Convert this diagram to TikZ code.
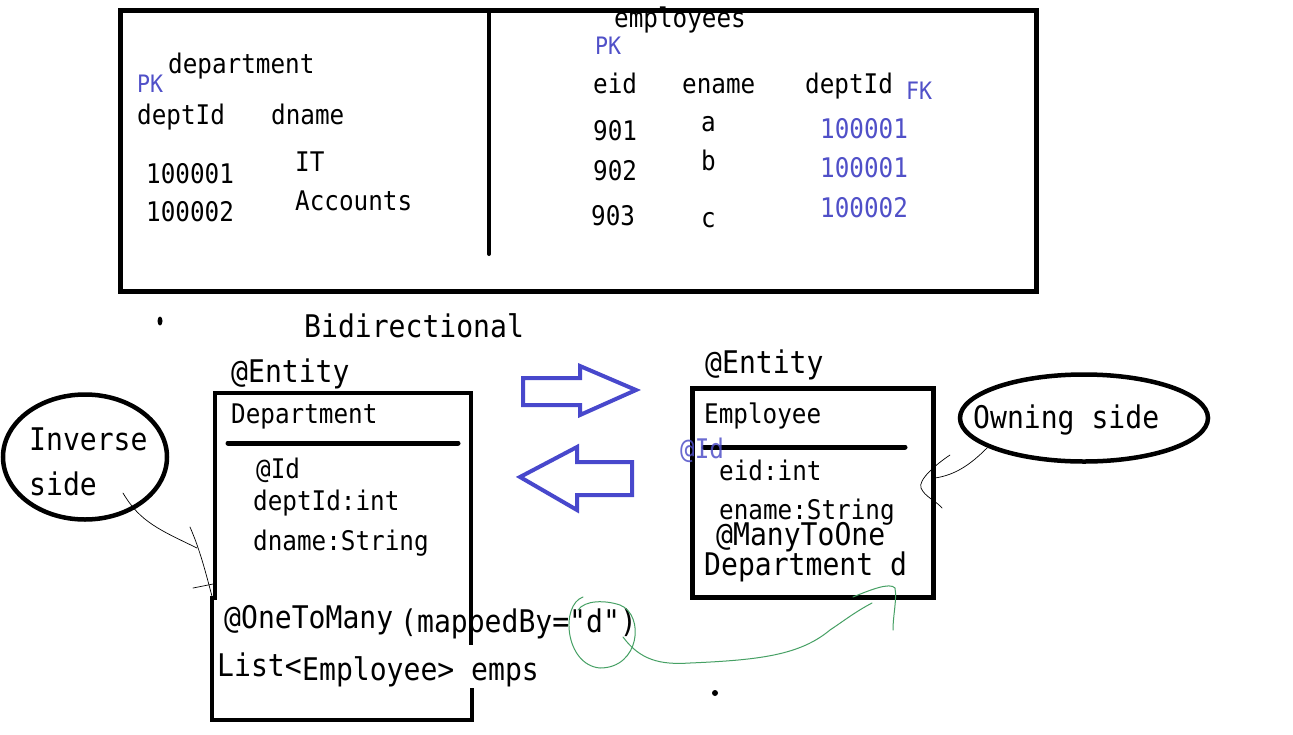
\documentclass[tikz,border=0pt]{standalone}
\usepackage{fontspec}
\setmonofont{DejaVu Sans Mono}[FakeStretch=0.9]
\usetikzlibrary{shapes.geometric,arrows.meta}
\definecolor{pkblue}{RGB}{80,80,200}
\definecolor{arrblue}{RGB}{72,72,204}
\definecolor{handgreen}{RGB}{70,160,100}
\tikzset{
  t/.style={anchor=base west,inner sep=0pt,font=\ttfamily\fontsize{27}{30}\selectfont},
  tb/.style={anchor=base west,inner sep=0pt,font=\ttfamily\fontsize{31.2}{34}\selectfont},
  pk/.style={anchor=base west,inner sep=0pt,text=pkblue,font=\ttfamily\fontsize{24}{26}\selectfont},
  fkval/.style={t,text=pkblue},
  heavy/.style={line width=4.5pt},
  sepline/.style={line width=5pt,line cap=round},
  hollowarrow/.style={draw=arrblue,line width=4pt,line join=miter,fill=white},
  bubble/.style={ellipse,draw,line width=4.5pt,inner sep=0pt},
  hand/.style={line width=0.7pt,line cap=round,line join=round},
  greenhand/.style={draw=handgreen,line width=1pt,line cap=round},
  dotmark/.style={circle,fill=black,inner sep=0pt,minimum size=6pt}
}
\begin{document}
\begin{tikzpicture}[x=1pt,y=-1pt]
\useasboundingbox[fill=white] (0,0) rectangle (1293,734);

% ---------- top table ----------
\node[draw,heavy,minimum width=916pt,minimum height=281pt,anchor=north west] (table) at (118,8) {};
\coordinate (divtop) at (489,10);
\coordinate (divbot) at (489,254);
\draw[line width=4pt,line cap=round] (divtop) -- (divbot);

\node[pk] (pk1) at (137,92) {PK};
\node[t] (dept) at (168,73) {department};
\node[t] (deptid) at (137,124) {deptId};
\node[t] (dname) at (271,124) {dname};
\node[t] (d1) at (146,183) {100001};
\node[t] (d2) at (146,221) {100002};
\node[t] (it) at (295,171) {IT};
\node[t] (acc) at (295,210) {Accounts};

\node[t] (emps) at (614,27) {employees};
\node[pk] (pk2) at (595,54) {PK};
\node[t] (eid) at (593,93) {eid};
\node[t] (ename) at (682,93) {ename};
\node[t] (edept) at (805,93) {deptId};
\node[pk] (fk) at (906,99) {FK};
\node[t] (e1) at (593,140) {901};
\node[t] (e2) at (593,180) {902};
\node[t] (e3) at (591,225) {903};
\node[t] (na) at (701,131) {a};
\node[t] (nb) at (701,170) {b};
\node[t] (nc) at (701,227) {c};
\node[fkval] (f1) at (820,138) {100001};
\node[fkval] (f2) at (820,177) {100001};
\node[fkval] (f3) at (820,217) {100002};

% ---------- bottom ----------
\node[dotmark,minimum width=5pt,minimum height=9pt,ellipse] (dotA) at (160,321) {};
\node[dotmark] (dotB) at (715,693) {};
\node[tb] (bidir) at (304,337) {Bidirectional};

% Department entity
\node[tb] (ent1) at (231,382) {@Entity};
\coordinate (dTL) at (215,393);
\coordinate (dTR) at (471,393);
\draw[heavy] (212,720) -- (212,598) -- (215,598) -- (dTL) -- (dTR) -- (471,645);
\draw[heavy] (472,688) -- (472,720) -- (210,720);
\node[t] (dclass) at (231,423) {Department};
\draw[sepline] (228,443) -- (458,443);
\node[t] (did) at (256,478) {@Id};
\node[t] (dattr1) at (253,510) {deptId:int};
\node[t] (dattr2) at (253,550) {dname:String};
\node[tb] (otm) at (224,628) {@OneToMany};
\node[tb] (mapped) at (400,632) {(mappedBy="d")};
\node[tb] (list) at (217,676) {List<};
\node[tb] (listemp) at (302,680) {Employee> emps};

% Employee entity
\node[tb] (ent2) at (705,373) {@Entity};
\node[draw,heavy,minimum width=241pt,minimum height=209pt,anchor=north west] (ebox) at (690,386) {};
\node[t] (eclass) at (704,423) {Employee};
\draw[sepline] (704,447) -- (905,447);
\node[t,text=pkblue,opacity=0.85] (eidann) at (680,458) {@Id};
\node[t] (eattr1) at (719,480) {eid:int};
\node[t] (eattr2) at (719,519) {ename:String};
\node[tb] (mto) at (716,545) {@ManyToOne};
\node[tb] (edep) at (704,575) {Department d};

% hollow arrows
\draw[hollowarrow] (523,378) -- (580,378) -- (580,366) -- (636,390) -- (580,415) -- (580,405) -- (523,405) -- cycle;
\draw[hollowarrow] (632,462) -- (577,462) -- (577,447) -- (520,477) -- (577,510) -- (577,495) -- (632,495) -- cycle;

% bubbles
\node[bubble,minimum width=164pt,minimum height=125pt] (inv) at (85,457) {};
\node[tb] (invt1) at (29,450) {Inverse};
\node[tb] (invt2) at (29,495) {side};
\node[bubble,minimum width=248pt,minimum height=87pt] (own) at (1084,418) {};
\node[tb] (ownt) at (973,428) {Owning side};

% hand-drawn pointers
\draw[hand] (123,493) .. controls (140,522) and (160,530) .. (197,548);
\draw[hand] (190,527) .. controls (200,550) and (205,570) .. (213,600);
\draw[hand] (193,588) -- (213,584);
\draw[hand] (987,448) .. controls (970,465) and (955,475) .. (935,478);
\draw[hand] (950,455) .. controls (935,465) and (918,480) .. (921,488) .. controls (925,497) and (935,500) .. (942,508);

% green annotation
\draw[greenhand] (583,597) .. controls (560,605) and (565,665) .. (600,668)
  .. controls (640,668) and (645,615) .. (620,605) .. controls (605,600) and (585,600) .. (578,610);
\draw[greenhand] (623,637) .. controls (640,660) and (660,665) .. (690,663)
  .. controls (760,660) and (800,655) .. (830,630) .. controls (845,620) and (855,612) .. (872,603);
\draw[greenhand] (853,597) .. controls (870,590) and (890,582) .. (895,588) .. controls (897,600) and (893,615) .. (893,630);
\end{tikzpicture}
\end{document}
